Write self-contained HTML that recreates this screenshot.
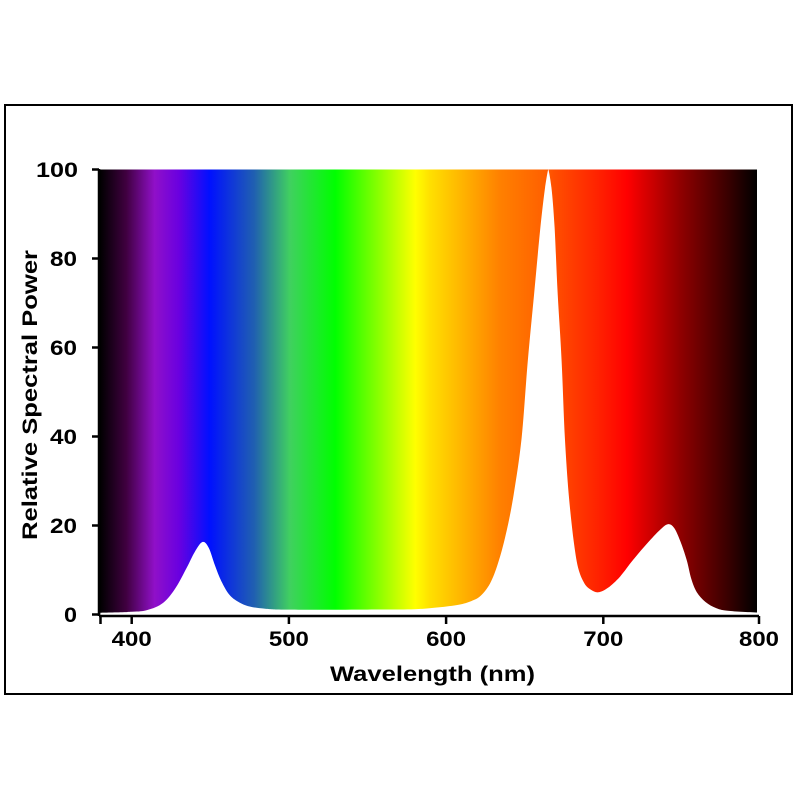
<!DOCTYPE html>
<html><head><style>
html,body{margin:0;padding:0;background:#fff;}
svg{display:block;}
text{font-family:"Liberation Sans",Arial,sans-serif;font-weight:bold;fill:#000;}
</style></head><body>
<svg id="s" width="800" height="800" viewBox="0 0 800 800">
<defs>
<linearGradient id="g" gradientUnits="userSpaceOnUse" x1="100" y1="0" x2="757" y2="0">
<stop offset="0" stop-color="#000000"/>
<stop offset="0.04" stop-color="#400040"/>
<stop offset="0.083" stop-color="#9010c8"/>
<stop offset="0.12" stop-color="#6a00e0"/>
<stop offset="0.167" stop-color="#0010ff"/>
<stop offset="0.235" stop-color="#2060b0"/>
<stop offset="0.289" stop-color="#40d060"/>
<stop offset="0.358" stop-color="#00ff00"/>
<stop offset="0.48" stop-color="#ffff00"/>
<stop offset="0.502" stop-color="#ffe000"/>
<stop offset="0.609" stop-color="#ff8000"/>
<stop offset="0.677" stop-color="#ff6000"/>
<stop offset="0.69" stop-color="#ff5000"/>
<stop offset="0.761" stop-color="#ff2000"/>
<stop offset="0.802" stop-color="#ff0000"/>
<stop offset="0.883" stop-color="#900000"/>
<stop offset="0.95" stop-color="#400000"/>
<stop offset="1" stop-color="#000000"/>
</linearGradient>
</defs>
<rect x="5" y="105" width="787" height="589" fill="none" stroke="#000" stroke-width="2"/>
<rect x="100" y="169.5" width="657" height="445" fill="url(#g)"/>
<path id="c" fill="#fff" d=""/>
<g stroke="#000" stroke-width="2.5" fill="none">
<line x1="99" y1="169" x2="99" y2="616"/>
<line x1="99" y1="616" x2="759" y2="616"/>
<line x1="92" y1="169.5" x2="99" y2="169.5"/>
<line x1="92" y1="258.5" x2="99" y2="258.5"/>
<line x1="92" y1="347.5" x2="99" y2="347.5"/>
<line x1="92" y1="436.5" x2="99" y2="436.5"/>
<line x1="92" y1="525.5" x2="99" y2="525.5"/>
<line x1="92" y1="614.5" x2="99" y2="614.5"/>
<line x1="100.5" y1="616" x2="100.5" y2="624"/>
<line x1="131.7" y1="616" x2="131.7" y2="624"/>
<line x1="288.9" y1="616" x2="288.9" y2="624"/>
<line x1="446.1" y1="616" x2="446.1" y2="624"/>
<line x1="603.3" y1="616" x2="603.3" y2="624"/>
<line x1="759" y1="616" x2="759" y2="624"/>
</g>
<g font-size="21">
<text x="36" y="177" textLength="42" lengthAdjust="spacingAndGlyphs">100</text>
<text x="50" y="266" textLength="27" lengthAdjust="spacingAndGlyphs">80</text>
<text x="50" y="355" textLength="27" lengthAdjust="spacingAndGlyphs">60</text>
<text x="50" y="444" textLength="27" lengthAdjust="spacingAndGlyphs">40</text>
<text x="50" y="533" textLength="27" lengthAdjust="spacingAndGlyphs">20</text>
<text x="64" y="622" textLength="13" lengthAdjust="spacingAndGlyphs">0</text>
<text x="111.7" y="646" textLength="40" lengthAdjust="spacingAndGlyphs">400</text>
<text x="268.9" y="646" textLength="40" lengthAdjust="spacingAndGlyphs">500</text>
<text x="426.1" y="646" textLength="40" lengthAdjust="spacingAndGlyphs">600</text>
<text x="583.3" y="646" textLength="40" lengthAdjust="spacingAndGlyphs">700</text>
<text x="739" y="646" textLength="40" lengthAdjust="spacingAndGlyphs">800</text>
<text x="330" y="681" textLength="205" lengthAdjust="spacingAndGlyphs">Wavelength (nm)</text>
<text transform="translate(37,540) rotate(-90)" textLength="290" lengthAdjust="spacingAndGlyphs">Relative Spectral Power</text>
</g>
</svg>
<script>
var d=[[380,0.4],[400,0.6],[410,1],[420,2.6],[428,6],[435,10.5],[440,14],[445,16.3],[449,15],[453,11],[457,7.5],[462,4.5],[468,2.8],[475,1.8],[485,1.3],[500,1.1],[550,1.1],[580,1.2],[595,1.6],[608,2.2],[616,3],[622,4.2],[628,7],[633,11.5],[638,18],[643,27],[648,39.6],[652,57],[656,72],[660,87],[663,96],[665,100],[667,96],[669,87],[671,72],[673.5,57],[675.5,40],[678,27],[681,17],[684,10.5],[688,7],[692,5.6],[696.8,5],[703,6],[710.6,8.5],[719,12.3],[728,16],[736,19],[741,20.3],[745,19.5],[749,16.5],[753,12.3],[756,8],[759.5,5],[765,2.8],[772,1.4],[780,0.8],[800,0.4]];
function X(l){return 131.7+(l-400)*1.572;}
function Y(v){return 614.5-v*4.45;}
var pts=d.map(function(a){return [X(a[0]),Y(a[1])];});
var p="M"+X(380)+",614.5 L"+pts[0][0]+","+pts[0][1];
for(var i=0;i<pts.length-1;i++){
 var p0=pts[Math.max(0,i-1)],p1=pts[i],p2=pts[i+1],p3=pts[Math.min(pts.length-1,i+2)];
 var t=1/6;
 if(d[i][0]==665||d[i+1][0]==665)t=0.08;
 var c1=[p1[0]+(p2[0]-p0[0])*t, p1[1]+(p2[1]-p0[1])*t];
 var c2=[p2[0]-(p3[0]-p1[0])*t, p2[1]-(p3[1]-p1[1])*t];
 c1[1]=Math.max(Math.min(c1[1],614.5),169.5);c2[1]=Math.max(Math.min(c2[1],614.5),169.5);
 p+=" C"+c1[0].toFixed(1)+","+c1[1].toFixed(1)+" "+c2[0].toFixed(1)+","+c2[1].toFixed(1)+" "+p2[0].toFixed(1)+","+p2[1].toFixed(1);
}
p+=" L"+X(800)+",614.5 Z";
document.getElementById("c").setAttribute("d",p);
</script>
</body></html>
